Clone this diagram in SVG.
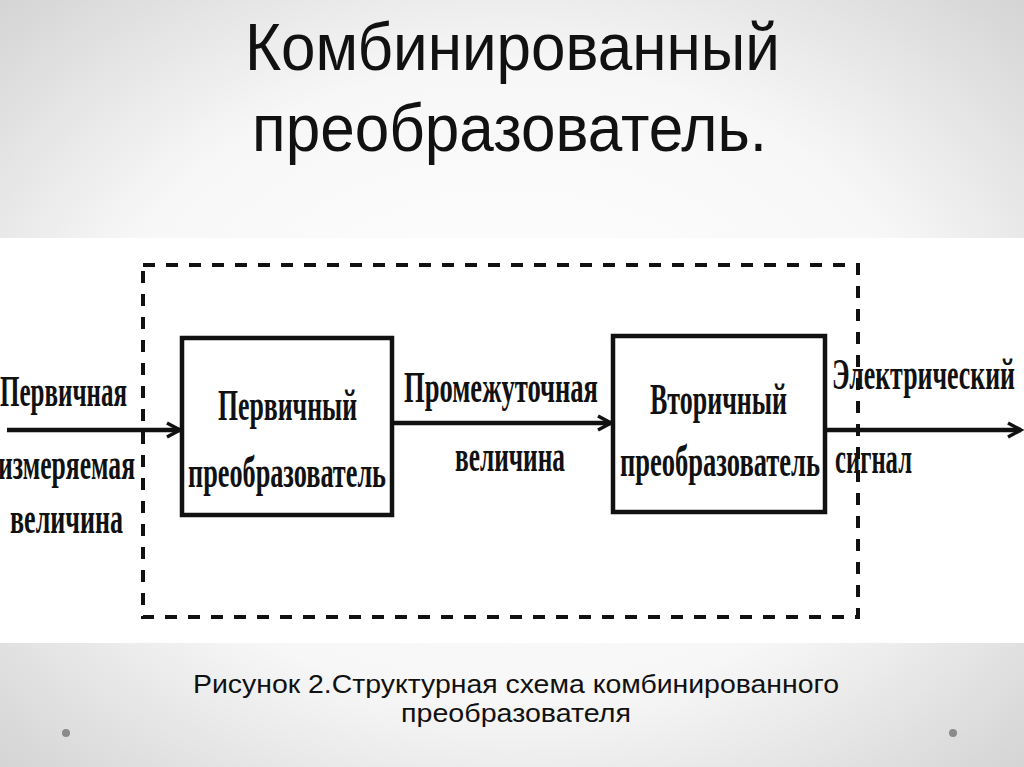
<svg xmlns="http://www.w3.org/2000/svg" width="1024" height="767" viewBox="0 0 1024 767">
  <defs>
    <radialGradient id="bg" cx="50%" cy="50%" r="75%">
      <stop offset="0" stop-color="#ffffff"/>
      <stop offset="0.55" stop-color="#f7f7f7"/>
      <stop offset="1" stop-color="#cfcfcf"/>
    </radialGradient>
    <marker id="chev" markerUnits="userSpaceOnUse" markerWidth="24" markerHeight="24" viewBox="0 0 24 24" refX="20" refY="12" orient="auto">
      <path d="M7 5 L20 12 L7 19" fill="none" stroke="#111" stroke-width="3.5"/>
    </marker>
    <style>
      .title { font-family: "Liberation Sans", Arial, sans-serif; font-size: 66px; fill: #111; }
      .cap { font-family: "Liberation Sans", Arial, sans-serif; font-size: 25px; fill: #111; }
      .lbl { font-family: "Liberation Serif", "Times New Roman", serif; font-weight: bold; font-size: 44px; fill: #111; }
      .box { fill: #fff; stroke: #111; stroke-width: 4.5; }
      .wire { stroke: #111; stroke-width: 4.5; fill: none; }
      .frame { fill: none; stroke: #111; stroke-width: 4; stroke-dasharray: 12 11; }
    </style>
  </defs>

  <rect x="0" y="0" width="1024" height="767" fill="url(#bg)"/>
  <rect x="0" y="238" width="1024" height="405" fill="#ffffff"/>

  <g id="title">
    <text class="title" x="245" y="70" textLength="535" lengthAdjust="spacingAndGlyphs">Комбинированный</text>
    <text class="title" x="252" y="151" textLength="515" lengthAdjust="spacingAndGlyphs">преобразователь.</text>
  </g>

  <g id="frame">
    <rect class="frame" x="143" y="265" width="715" height="352"/>
  </g>

  <g id="connectors">
    <line class="wire" x1="7" y1="430" x2="180" y2="430" marker-end="url(#chev)"/>
    <line class="wire" x1="392" y1="423" x2="611" y2="423" marker-end="url(#chev)"/>
    <line class="wire" x1="825" y1="430" x2="1021" y2="430" marker-end="url(#chev)"/>
  </g>

  <g id="input-label">
    <text class="lbl" x="0" y="406" textLength="127" lengthAdjust="spacingAndGlyphs">Первичная</text>
    <text class="lbl" x="-2" y="479" textLength="137" lengthAdjust="spacingAndGlyphs">измеряемая</text>
    <text class="lbl" x="10" y="533" textLength="113" lengthAdjust="spacingAndGlyphs">величина</text>
  </g>

  <g id="primary">
    <rect class="box" x="182" y="338" width="210" height="177"/>
    <text class="lbl" x="218" y="420" textLength="139" lengthAdjust="spacingAndGlyphs">Первичный</text>
    <text class="lbl" x="188" y="487" textLength="198" lengthAdjust="spacingAndGlyphs">преобразователь</text>
  </g>

  <g id="mid-label">
    <text class="lbl" x="404" y="402" textLength="194" lengthAdjust="spacingAndGlyphs">Промежуточная</text>
    <text class="lbl" x="455" y="471" textLength="110" lengthAdjust="spacingAndGlyphs">величина</text>
  </g>

  <g id="secondary">
    <rect class="box" x="613" y="336" width="212" height="176"/>
    <text class="lbl" x="650" y="414" textLength="137" lengthAdjust="spacingAndGlyphs">Вторичный</text>
    <text class="lbl" x="620" y="476" textLength="200" lengthAdjust="spacingAndGlyphs">преобразователь</text>
  </g>

  <g id="output-label">
    <text class="lbl" x="832" y="389" textLength="183" lengthAdjust="spacingAndGlyphs">Электрический</text>
    <text class="lbl" x="835" y="473" textLength="77" lengthAdjust="spacingAndGlyphs">сигнал</text>
  </g>

  <g id="caption">
    <text class="cap" x="193" y="693" textLength="646" lengthAdjust="spacingAndGlyphs">Рисунок 2.Структурная схема комбинированного</text>
    <text class="cap" x="401" y="722" textLength="230" lengthAdjust="spacingAndGlyphs">преобразователя</text>
  </g>

  <g id="dots" fill="#8a8a8a">
    <circle cx="66" cy="733" r="4"/>
    <circle cx="953" cy="733" r="4"/>
  </g>
</svg>
